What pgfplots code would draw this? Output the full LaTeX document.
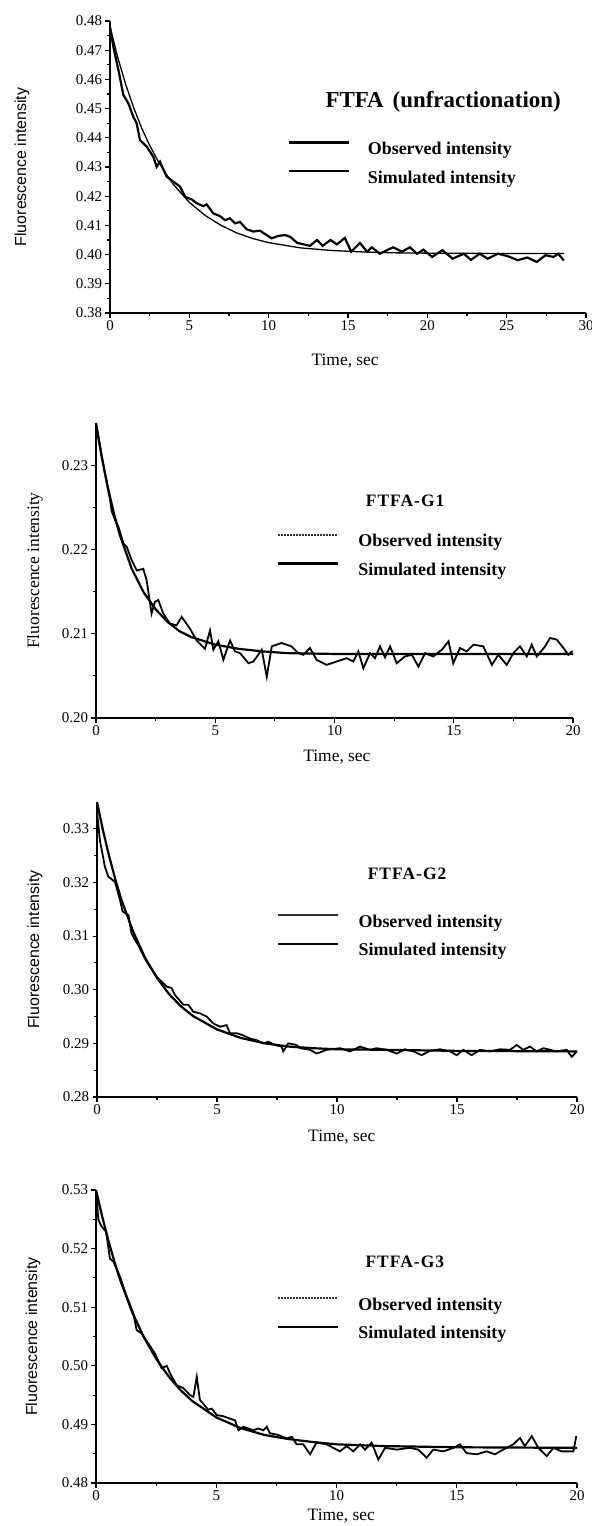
\documentclass[border=0pt]{standalone}
\usepackage{pgfplots}
\pgfplotsset{compat=1.18}
\usepackage{fontspec}
\setmainfont{Liberation Serif}
\newfontfamily\sansf{Liberation Sans}
\begin{document}
\begin{tikzpicture}
\useasboundingbox (0bp,0bp) rectangle (592bp,-1526bp);
\pgfplotsset{
  panel/.style={
    scale only axis,
    axis lines=left,
    axis line style={-, line width=1.4bp},
    tick align=outside,
    major tick length=4.5bp,
    minor tick length=3bp,
    every tick/.style={black, line width=1.1bp},
    minor x tick num=1, minor y tick num=1,
    tick label style={font=\fontsize{15}{17}\selectfont},
    /pgf/number format/assume math mode=true,
    yticklabel style={/pgf/number format/.cd, fixed, fixed zerofill, precision=2},
    xlabel={Time, sec},
    xlabel style={font=\fontsize{17.5}{19}\selectfont, anchor=center},
    ylabel={Fluorescence intensity},
    ylabel style={anchor=center},
    clip=false,
    legend style={draw=none, fill=none, inner sep=0pt, anchor=north west,
      font=\bfseries\fontsize{18}{19}\selectfont, row sep=10.5bp,
      nodes={inner sep=1bp, text height=12bp, text depth=4bp}},
    legend cell align=left,
    legend image code/.code={\draw[##1] (0bp,8bp) -- (60bp,8bp);},
    title style={anchor=center},
  },
}

% ---------- Panel 1 ----------
\begin{axis}[panel, at={(110bp,-313bp)}, anchor=south west,
  width=476bp, height=292bp,
  xmin=0, xmax=30, ymin=0.38, ymax=0.48,
  xtick={0,5,10,15,20,25,30},
  ytick={0.38,0.39,0.40,0.41,0.42,0.43,0.44,0.45,0.46,0.47,0.48},
  xlabel style={at={(axis description cs:0.494,-0.165)}},
  ylabel style={at={(axis description cs:-0.185,0.5)}, font=\sansf\fontsize{16}{18}\selectfont},
  title={FTFA\hspace{9bp}(unfractionation)},
  title style={at={(axis description cs:0.70,0.702)}, font=\bfseries\fontsize{23}{25}\selectfont},
  legend style={at={(axis description cs:0.372,0.589)}, /tikz/every odd column/.append style={column sep=17bp}},
]
\addplot[black, line width=2.2bp, forget plot] coordinates {
(0,0.478) (0.21,0.4712) (0.53,0.4632) (0.84,0.4547) (1.16,0.4518) (1.47,0.4472)
(1.68,0.4450) (1.89,0.4392) (2.31,0.4370) (2.73,0.4335) (2.94,0.4301) (3.15,0.4318)
(3.57,0.4267) (3.99,0.4250) (4.41,0.4233) (4.73,0.4198) (5.15,0.4189) (5.46,0.4176)
(5.88,0.4166) (6.09,0.4172) (6.51,0.4141) (6.93,0.4132) (7.25,0.4118) (7.56,0.4124)
(7.88,0.4107) (8.19,0.4112) (8.61,0.4087) (9.03,0.4079) (9.45,0.4082) (9.87,0.4067)
(10.19,0.4056) (10.61,0.4064) (11.03,0.4067) (11.36,0.4061) (11.8,0.4040) (12.2,0.4035)
(12.6,0.4030) (13.05,0.4050) (13.4,0.4030) (13.9,0.4050) (14.3,0.4035) (14.8,0.4057)
(15.2,0.4010) (15.75,0.4040) (16.2,0.4010) (16.5,0.4025) (17.0,0.4003) (17.45,0.4015)
(17.85,0.4025) (18.4,0.4010) (18.9,0.4025) (19.35,0.4003) (19.75,0.4017) (20.3,0.3992)
(20.95,0.4015) (21.6,0.3986) (22.3,0.4003) (22.75,0.3982) (23.3,0.4003) (23.8,0.3986)
(24.45,0.4003) (25.05,0.3995) (25.7,0.3981) (26.3,0.3990) (26.9,0.3975) (27.45,0.3998)
(27.95,0.3992) (28.25,0.4003) (28.6,0.3980)
};
\addplot[black, line width=1.3bp, forget plot] coordinates {
(0,0.478) (0.5,0.4673) (1,0.4581) (1.5,0.4502) (2,0.4433) (2.5,0.4374) (3,0.4323)
(3.5,0.4279) (4,0.4240) (5,0.4179) (6,0.4134) (7,0.4100) (8,0.4074) (9,0.4055)
(10,0.4041) (12,0.4023) (14,0.4014) (16,0.4009) (18,0.4006) (20,0.4005) (24,0.4004) (28.6,0.4004)
};
\addlegendimage{black, line width=2.6bp}
\addlegendentry{Observed intensity}
\addlegendimage{black, line width=1.4bp}
\addlegendentry{Simulated intensity}
\end{axis}

% ---------- Panel 2 ----------
\begin{axis}[panel, at={(96bp,-718bp)}, anchor=south west,
  width=477bp, height=295bp,
  xmin=0, xmax=20, ymin=0.20, ymax=0.235,
  xtick={0,5,10,15,20},
  ytick={0.20,0.21,0.22,0.23},
  xlabel style={at={(axis description cs:0.505,-0.132)}},
  ylabel style={at={(axis description cs:-0.128,0.5)}, font=\fontsize{17.5}{19}\selectfont},
  title={\addfontfeatures{LetterSpace=6}FTFA-G1},
  title style={at={(axis description cs:0.648,0.715)}, font=\bfseries\fontsize{17.5}{20}\selectfont},
  legend style={at={(axis description cs:0.379,0.625)}, /tikz/every odd column/.append style={column sep=18bp}},
]
\addplot[black, line width=1.8bp, forget plot] coordinates {
(0,0.2350) (0.17,0.2322) (0.38,0.2290) (0.59,0.2259) (0.66,0.2245) (0.80,0.2235)
(0.94,0.2227) (1.15,0.2207) (1.29,0.2203) (1.50,0.2187) (1.71,0.2175) (1.98,0.2177)
(2.12,0.2164) (2.33,0.2124) (2.47,0.2138) (2.61,0.2140) (2.82,0.2124) (3.10,0.2112)
(3.38,0.2110) (3.59,0.2120) (3.94,0.2106) (4.22,0.2092) (4.57,0.2082) (4.78,0.2104)
(4.92,0.2081) (5.13,0.2091) (5.34,0.2069) (5.62,0.2092) (5.83,0.2079) (6.04,0.2077)
(6.39,0.2065) (6.60,0.2067) (6.95,0.2081) (7.16,0.2049) (7.37,0.2085) (7.78,0.2089)
(8.20,0.2085) (8.48,0.2077) (8.69,0.2075) (8.97,0.2083) (9.25,0.2069) (9.67,0.2063)
(10.09,0.2067) (10.51,0.2071) (10.79,0.2067) (11.0,0.2079) (11.21,0.2059) (11.49,0.2077)
(11.70,0.2071) (11.91,0.2085) (12.12,0.2072) (12.33,0.2085) (12.61,0.2065) (12.95,0.2073)
(13.24,0.2075) (13.52,0.2061) (13.80,0.2077) (14.14,0.2073) (14.50,0.2081) (14.78,0.2091)
(14.98,0.2065) (15.26,0.2083) (15.54,0.2079) (15.83,0.2087) (16.24,0.2085) (16.6,0.2063)
(16.87,0.2075) (17.22,0.2063) (17.5,0.2077) (17.78,0.2085) (18.06,0.2073) (18.27,0.2087)
(18.48,0.2073) (18.83,0.2085) (19.04,0.2095) (19.32,0.2093) (19.6,0.2083) (19.8,0.2075)
(19.95,0.2079) (20.0,0.2079)
};
\addplot[black, line width=2.2bp, forget plot] coordinates {
(0,0.2350) (0.25,0.2308) (0.5,0.2273) (0.75,0.2243) (1,0.2217) (1.5,0.2177) (2,0.2149)
(2.5,0.2129) (3,0.2114) (3.5,0.2103) (4,0.2096) (5,0.2087) (6,0.2082) (7,0.2079)
(8,0.2077) (10,0.2076) (20,0.2076)
};
\addlegendimage{black!80, line width=1.6bp, dash pattern=on 2.2bp off 0.8bp}
\addlegendentry{Observed intensity}
\addlegendimage{black, line width=2.4bp}
\addlegendentry{Simulated intensity}
\end{axis}

% ---------- Panel 3 ----------
\begin{axis}[panel, at={(97bp,-1097bp)}, anchor=south west,
  width=480bp, height=295bp,
  xmin=0, xmax=20, ymin=0.28, ymax=0.335,
  xtick={0,5,10,15,20},
  ytick={0.28,0.29,0.30,0.31,0.32,0.33},
  xlabel style={at={(axis description cs:0.51,-0.136)}},
  ylabel style={at={(axis description cs:-0.129,0.5)}, font=\sansf\fontsize{16}{18}\selectfont},
  title={\addfontfeatures{LetterSpace=6}FTFA-G2},
  title style={at={(axis description cs:0.646,0.736)}, font=\bfseries\fontsize{17.5}{20}\selectfont},
  legend style={at={(axis description cs:0.375,0.621)}, /tikz/every odd column/.append style={column sep=18bp}},
]
\addplot[black, line width=1.8bp, forget plot] coordinates {
(0,0.3332) (0.12,0.3279) (0.33,0.3229) (0.47,0.3211) (0.75,0.3201) (0.96,0.3167)
(1.07,0.3146) (1.31,0.3139) (1.44,0.3105) (1.58,0.3093) (1.72,0.3083) (2.07,0.3052)
(2.49,0.3024) (2.90,0.3006) (3.11,0.3003) (3.25,0.2990) (3.6,0.2972) (3.81,0.2972)
(4.01,0.2959) (4.29,0.2956) (4.57,0.2950) (4.85,0.2937) (5.13,0.2931) (5.4,0.2934)
(5.54,0.2919) (5.82,0.2919) (6.03,0.2916) (6.38,0.2909) (6.65,0.2906) (6.93,0.2900)
(7.14,0.2903) (7.42,0.2897) (7.69,0.2894) (7.76,0.2885) (7.97,0.2900) (8.32,0.2897)
(8.46,0.2891) (8.88,0.2888) (9.15,0.2881) (9.57,0.2888) (10.13,0.2891) (10.54,0.2885)
(10.96,0.2894) (11.38,0.2888) (11.65,0.2891) (12.07,0.2888) (12.49,0.2881) (12.83,0.2889)
(13.18,0.2885) (13.53,0.2878) (13.87,0.2886) (14.29,0.2889) (14.71,0.2885) (14.99,0.2878)
(15.26,0.2888) (15.61,0.2878) (15.96,0.2888) (16.38,0.2885) (16.79,0.2889) (17.21,0.2888)
(17.49,0.2897) (17.76,0.2888) (18.04,0.2894) (18.32,0.2885) (18.6,0.2891) (18.88,0.2888)
(19.15,0.2885) (19.57,0.2888) (19.78,0.2875) (20.0,0.2885)
};
\addplot[black, line width=2.2bp, forget plot] coordinates {
(0,0.3350) (0.25,0.3297) (0.5,0.3250) (0.75,0.3208) (1,0.3170) (1.5,0.3109) (2,0.3060)
(2.5,0.3022) (3,0.2992) (3.5,0.2969) (4,0.2951) (5,0.2926) (6,0.2910) (7,0.2900)
(8,0.2894) (9,0.2891) (10,0.2889) (12,0.2888) (15,0.2886) (20,0.2885)
};
\addlegendimage{black!80, line width=1.6bp, dash pattern=on 2.2bp off 0.8bp}
\addlegendentry{Observed intensity}
\addlegendimage{black, line width=2.4bp}
\addlegendentry{Simulated intensity}
\end{axis}

% ---------- Panel 4 ----------
\begin{axis}[panel, at={(96bp,-1483bp)}, anchor=south west,
  width=481bp, height=293bp,
  xmin=0, xmax=20, ymin=0.48, ymax=0.53,
  xtick={0,5,10,15,20},
  ytick={0.48,0.49,0.50,0.51,0.52,0.53},
  xlabel style={at={(axis description cs:0.51,-0.112)}},
  ylabel style={at={(axis description cs:-0.131,0.5)}, font=\sansf\fontsize{16}{18}\selectfont},
  title={\addfontfeatures{LetterSpace=6}FTFA-G3},
  title style={at={(axis description cs:0.642,0.734)}, font=\bfseries\fontsize{17.5}{20}\selectfont},
  legend style={at={(axis description cs:0.376,0.635)}, /tikz/every odd column/.append style={column sep=18bp}},
]
\addplot[black, line width=1.8bp, forget plot] coordinates {
(0,0.5300) (0.10,0.5249) (0.24,0.5237) (0.42,0.5229) (0.58,0.5183) (0.72,0.5178)
(1.0,0.5152) (1.28,0.5118) (1.55,0.5090) (1.69,0.5061) (1.90,0.5055) (2.18,0.5038)
(2.45,0.5021) (2.73,0.4996) (2.94,0.5000) (3.08,0.4987) (3.35,0.4967) (3.63,0.4962)
(3.91,0.4950) (4.05,0.4947) (4.19,0.4981) (4.32,0.4942) (4.67,0.4925) (4.81,0.4927)
(5.02,0.4916) (5.29,0.4914) (5.57,0.4910) (5.78,0.4907) (5.92,0.4890) (6.13,0.4896)
(6.33,0.4893) (6.54,0.4890) (6.75,0.4893) (6.96,0.4890) (7.1,0.4896) (7.23,0.4885)
(7.58,0.4882) (7.93,0.4876) (8.14,0.4879) (8.34,0.4866) (8.62,0.4866) (8.9,0.4849)
(9.17,0.4869) (9.59,0.4866) (9.87,0.4860) (10.14,0.4854) (10.42,0.4863) (10.70,0.4854)
(10.98,0.4866) (11.19,0.4857) (11.46,0.4869) (11.74,0.4840) (12.02,0.4860) (12.5,0.4857)
(13.05,0.4860) (13.4,0.4857) (13.75,0.4843) (14.02,0.4857) (14.44,0.4854) (14.86,0.4860)
(15.13,0.4866) (15.41,0.4851) (15.83,0.4849) (16.24,0.4854) (16.59,0.4849) (16.93,0.4857)
(17.35,0.4866) (17.63,0.4877) (17.83,0.4863) (18.12,0.4880) (18.39,0.4860) (18.74,0.4846)
(19.02,0.4860) (19.36,0.4854) (19.71,0.4854) (19.85,0.4854) (19.97,0.4880)
};
\addplot[black, line width=2.2bp, forget plot] coordinates {
(0,0.5300) (0.25,0.5256) (0.5,0.5216) (0.75,0.5180) (1,0.5147) (1.5,0.5092) (2,0.5048)
(2.5,0.5012) (3,0.4983) (3.5,0.4959) (4,0.4940) (5,0.4912) (6,0.4894) (7,0.4882)
(8,0.4875) (9,0.4870) (10,0.4866) (12,0.4863) (15,0.4861) (20,0.4860)
};
\addlegendimage{black!80, line width=1.6bp, dash pattern=on 2.2bp off 0.8bp}
\addlegendentry{Observed intensity}
\addlegendimage{black, line width=2.4bp}
\addlegendentry{Simulated intensity}
\end{axis}
\end{tikzpicture}
\end{document}
